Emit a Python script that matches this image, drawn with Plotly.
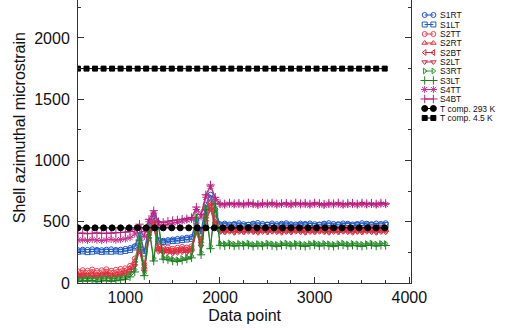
import plotly.graph_objects as go

# ---------------- data ----------------
x_pts = list(range(500, 3751, 50))  # data-point index of each sample (66 samples)

S1RT = [268, 272, 270, 275, 270, 268, 272, 275, 270, 272, 278, 285,
        300, 420, 260, 470, 560, 350, 345, 350, 355, 360, 365, 370, 375, 520, 420, 640, 720, 600,
        480, 485, 478, 482, 488, 480, 476, 484, 490, 482, 478, 486, 480, 484, 488, 480, 478, 485,
        482, 486, 480, 478, 484, 488, 482, 480, 486, 484, 478, 482, 488, 484, 480, 486, 482, 488]
S1LT = [255, 258, 252, 256, 260, 254, 257, 255, 259, 256, 262, 270,
        290, 390, 240, 440, 530, 340, 335, 338, 342, 345, 350, 355, 360, 500, 400, 610, 690, 560,
        470, 472, 468, 474, 470, 466, 472, 476, 470, 468, 474, 470, 466, 472, 476, 470, 468, 472,
        474, 470, 466, 472, 476, 470, 468, 474, 470, 472, 468, 474, 470, 476, 472, 468, 470, 474]
S2TT = [95, 105, 100, 110, 98, 104, 112, 100, 108, 115, 120, 140,
        200, 330, 150, 420, 520, 300, 285, 290, 280, 288, 295, 290, 300, 470, 360, 560, 660, 520,
        445, 440, 448, 442, 446, 440, 444, 450, 442, 446, 440, 444, 448, 442, 446, 440, 444, 448,
        442, 446, 440, 444, 448, 442, 446, 440, 444, 448, 442, 446, 440, 444, 448, 442, 446, 444]
S2RT = [70, 80, 75, 85, 72, 78, 88, 76, 82, 90, 98, 120,
        180, 300, 130, 400, 500, 285, 270, 275, 268, 272, 280, 276, 285, 450, 340, 540, 640, 500,
        435, 432, 438, 430, 436, 432, 438, 434, 430, 436, 432, 438, 434, 430, 436, 432, 438, 434,
        430, 436, 432, 438, 434, 430, 436, 432, 438, 434, 430, 436, 432, 438, 434, 430, 436, 434]
S2BT = [55, 62, 58, 66, 60, 64, 70, 58, 66, 72, 80, 100,
        160, 280, 110, 380, 480, 270, 260, 262, 255, 260, 268, 262, 270, 430, 320, 520, 620, 480,
        425, 422, 428, 420, 426, 422, 428, 424, 420, 426, 422, 428, 424, 420, 426, 422, 428, 424,
        420, 426, 422, 428, 424, 420, 426, 422, 428, 424, 420, 426, 422, 428, 424, 420, 426, 424]
S2LT = [42, 48, 45, 50, 44, 48, 55, 46, 52, 58, 65, 85,
        140, 260, 95, 360, 460, 255, 245, 250, 240, 246, 252, 248, 256, 410, 300, 500, 600, 460,
        415, 412, 418, 410, 416, 412, 418, 414, 410, 416, 412, 418, 414, 410, 416, 412, 418, 414,
        410, 416, 412, 418, 414, 410, 416, 412, 418, 414, 410, 416, 412, 418, 414, 410, 416, 414]
S3RT = [32, 38, 35, 40, 30, 36, 42, 34, 38, 44, 50, 70,
        110, 380, 80, 460, 200, 500, 210, 205, 195, 190, 200, 210, 220, 560, 250, 620, 300, 680,
        325, 320, 328, 318, 324, 320, 326, 316, 322, 318, 326, 320, 316, 322, 326, 318, 324, 320,
        316, 322, 326, 318, 324, 320, 316, 322, 326, 318, 324, 320, 316, 322, 326, 318, 324, 322]
S3LT = [12, 18, 15, 20, 10, 16, 22, 14, 18, 24, 30, 50,
        90, 350, 60, 430, 180, 470, 195, 190, 180, 175, 185, 195, 205, 530, 230, 600, 280, 650,
        308, 304, 310, 302, 306, 304, 310, 300, 306, 302, 310, 304, 300, 306, 310, 302, 308, 304,
        300, 306, 310, 302, 308, 304, 300, 306, 310, 302, 308, 304, 300, 306, 310, 302, 308, 306]
S4TT = [350, 352, 348, 355, 350, 346, 352, 356, 350, 354, 360, 370,
        400, 450, 380, 500, 570, 480, 470, 480, 490, 495, 505, 515, 520, 600, 540, 700, 790, 680,
        640, 636, 644, 638, 642, 636, 644, 640, 634, 642, 638, 644, 636, 640, 642, 636, 644, 638,
        642, 636, 644, 640, 634, 642, 638, 644, 636, 640, 642, 636, 644, 638, 642, 636, 644, 640]
S4BT = [405, 408, 402, 406, 410, 404, 408, 406, 410, 412, 415, 420,
        440, 480, 420, 520, 590, 500, 495, 505, 510, 515, 520, 525, 535, 620, 560, 720, 800, 700,
        650, 646, 654, 648, 652, 646, 654, 650, 644, 652, 648, 654, 646, 650, 652, 646, 654, 648,
        652, 646, 654, 650, 644, 652, 648, 654, 646, 650, 652, 646, 654, 648, 652, 646, 654, 650]

x_tcomp = list(range(500, 3751, 90))
T293 = [450 for _ in x_tcomp]
T45 = [1750 for _ in x_tcomp]

x_ticks = [1000, 2000, 3000, 4000]
y_ticks = [0, 500, 1000, 1500, 2000]

# ---------------- styling ----------------
series = [
    ("S1RT", x_pts, S1RT, "#1d4fd0", "circle-open", 5),
    ("S1LT", x_pts, S1LT, "#1f5fc0", "square-open", 5),
    ("S2TT", x_pts, S2TT, "#ee3f52", "circle-open", 5),
    ("S2RT", x_pts, S2RT, "#e8323c", "triangle-up-open", 5),
    ("S2BT", x_pts, S2BT, "#e02a38", "triangle-left-open", 5),
    ("S2LT", x_pts, S2LT, "#d8304a", "triangle-down-open", 5),
    ("S3RT", x_pts, S3RT, "#2e9a2e", "triangle-right-open", 5),
    ("S3LT", x_pts, S3LT, "#1e7e22", "cross-thin-open", 6),
    ("S4TT", x_pts, S4TT, "#c8308c", "asterisk-open", 6),
    ("S4BT", x_pts, S4BT, "#b8207e", "cross-thin-open", 6),
    ("T comp. 293 K", x_tcomp, T293, "#000000", "circle", 6),
    ("T comp. 4.5 K", x_tcomp, T45, "#000000", "square", 5),
]

FONT = "Liberation Sans, Arial, sans-serif"
W, H = 511, 330
ML, MR, MT, MB = 78, 0, 0, 47
PW = W - ML - MR
PH = H - MT - MB
frame_right = 424
main_dom = [0, (frame_right - ML) / PW]
leg_left = 432
leg_dom = [(leg_left - ML) / PW, 1]

fig = go.Figure()
for name, xs, ys, col, sym, ms in series:
    fig.add_trace(go.Scatter(
        x=xs, y=ys, mode="lines+markers", name=name,
        line=dict(color=col, width=1),
        marker=dict(symbol=sym, size=ms, color=col, line=dict(color=col, width=1)),
        xaxis="x", yaxis="y", showlegend=False,
    ))

# custom compact legend (pixel coordinates inside a helper axis)
leg_rows = [15, 24.5, 34, 43, 52.5, 62, 71, 80.5, 89.5, 99, 108.5, 118]
annotations = []
for (name, xs, ys, col, sym, ms), ry in zip(series, leg_rows):
    fig.add_trace(go.Scatter(
        x=[6, 15], y=[ry, ry], mode="lines+markers",
        line=dict(color=col, width=1),
        marker=dict(symbol=sym, size=ms, color=col, line=dict(color=col, width=1)),
        xaxis="x2", yaxis="y2", showlegend=False, hoverinfo="skip",
    ))
    annotations.append(dict(
        x=20, y=ry, xref="x2", yref="y2", text=name, showarrow=False,
        xanchor="left", yanchor="middle", font=dict(family=FONT, size=8.5, color="#111"),
    ))

# y-axis title
annotations.append(dict(
    x=(17 - ML) / PW, y=(PH - (128 - MT)) / PH, xref="paper", yref="paper",
    text="Shell azimuthal microstrain", showarrow=False, textangle=-90,
    xanchor="center", yanchor="middle", font=dict(family=FONT, size=16, color="#111"),
))

fig.update_layout(
    width=W, height=H,
    margin=dict(l=ML, r=MR, t=MT, b=MB, pad=0),
    paper_bgcolor="white", plot_bgcolor="white",
    showlegend=False,
    font=dict(family=FONT, size=16, color="#111"),
    xaxis=dict(
        domain=main_dom, range=[500, 4020], tickvals=x_ticks,
        ticks="inside", ticklen=6, tickcolor="#333", tickwidth=1,
        minor=dict(dtick=250, tick0=0, ticks="inside", ticklen=3, tickcolor="#333"),
        showline=True, linecolor="#333", linewidth=1, mirror=False,
        showgrid=False, zeroline=False,
        title=dict(text="Data point", font=dict(family=FONT, size=16), standoff=4),
        tickfont=dict(family=FONT, size=16, color="#111"),
    ),
    yaxis=dict(
        range=[0, 2310], tickvals=y_ticks,
        ticks="inside", ticklen=6, tickcolor="#333", tickwidth=1,
        minor=dict(dtick=250, tick0=0, ticks="inside", ticklen=3, tickcolor="#333"),
        showline=True, linecolor="#333", linewidth=1, mirror="ticks",
        showgrid=False, zeroline=False, ticklabelstandoff=4,
        tickfont=dict(family=FONT, size=16, color="#111"),
    ),
    xaxis2=dict(domain=leg_dom, range=[0, W - leg_left], visible=False, fixedrange=True),
    yaxis2=dict(domain=[0, 1], range=[PH, 0], visible=False, fixedrange=True, anchor="x2"),
    annotations=annotations,
)

fig.write_html(
    "out.html",
    config={"displayModeBar": False},
    post_script="document.body.style.margin='0';document.body.style.padding='0';",
)
